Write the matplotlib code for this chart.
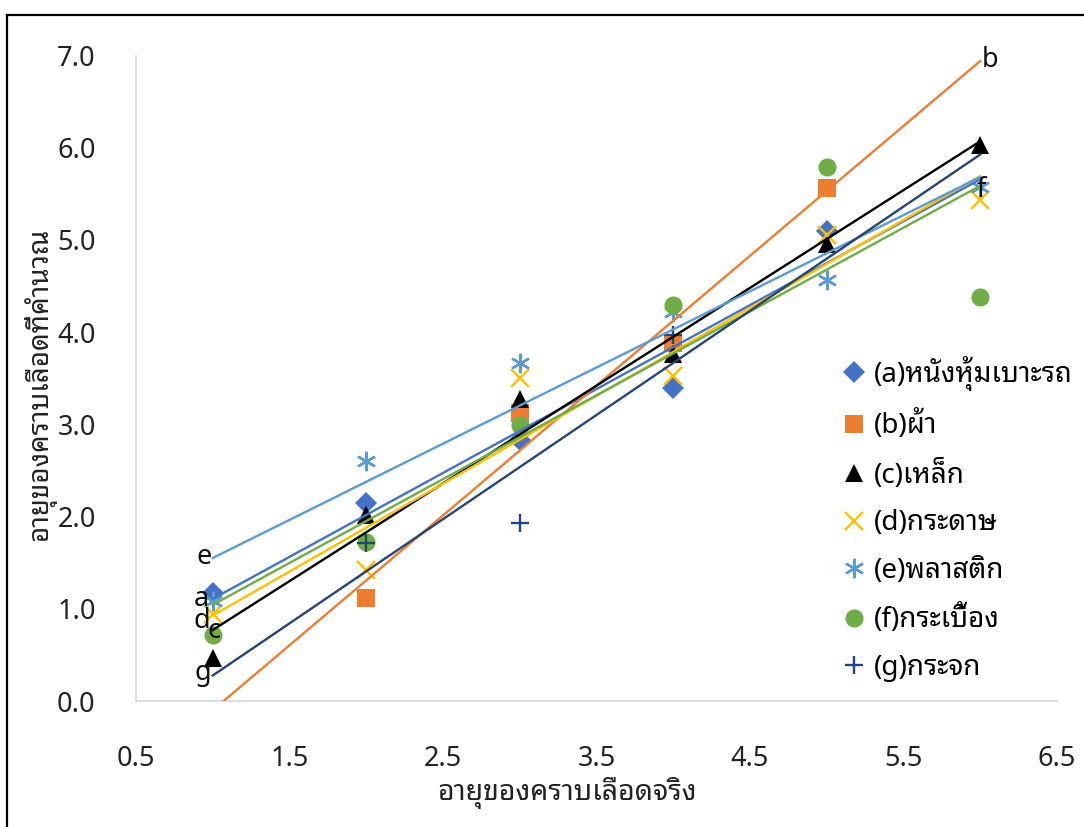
import numpy as np
import matplotlib
matplotlib.use('Agg')
import matplotlib.pyplot as plt
from matplotlib import font_manager
from matplotlib.ft2font import FT2Font
from matplotlib.lines import Line2D

# Blood stain age: actual (x) vs calculated (y), one series per surface
age_actual = [1, 2, 3, 4, 5, 6]
leather = [1.17, 2.15, 2.83, 3.39, 5.10, np.nan]
cloth = [np.nan, 1.12, 3.12, 3.88, 5.56, np.nan]
iron = [0.47, 2.02, 3.28, 3.76, 4.96, 6.03]
paper = [0.94, 1.42, 3.50, 3.52, 5.05, 5.43]
plastic = [1.08, 2.60, 3.66, 4.22, 4.57, 5.57]
tile = [0.72, 1.72, 2.99, 4.29, 5.79, 4.38]
glass = [np.nan, 1.71, 1.93, 3.97, np.nan, np.nan]

series_names = ['(a)หนังหุ้มเบาะรถ', '(b)ผ้า', '(c)เหล็ก', '(d)กระดาษ',
                '(e)พลาสติก', '(f)กระเบื้อง', '(g)กระจก']
line_tags = ['a', 'b', 'c', 'd', 'e', 'f', 'g']
x_title = 'อายุของคราบเลือดจริง'
y_title = 'อายุของคราบเลือดที่คำนวณ'
x_ticks = [0.5, 1.5, 2.5, 3.5, 4.5, 5.5, 6.5]
y_ticks = [0.0, 1.0, 2.0, 3.0, 4.0, 5.0, 6.0, 7.0]


def pick_thai_font():
    found = []
    for entry in font_manager.fontManager.ttflist:
        try:
            cmap = FT2Font(entry.fname).get_charmap()
        except Exception:
            continue
        if 0x0E01 in cmap:
            found.append(entry.name)
    for pref in ['Noto Sans Thai Looped', 'Noto Sans Thai', 'Noto Sans Thai UI',
                 'Loma', 'Garuda', 'Tlwg Typo', 'Sarabun']:
        if pref in found:
            return pref
    return found[0] if found else 'DejaVu Sans'


thai = pick_thai_font()
plt.rcParams['font.family'] = [thai, 'Noto Sans', 'DejaVu Sans']

colors = ['#4472C4', '#ED7D31', '#000000', '#FFC000', '#5B9BD5', '#70AD47', '#264478']
markers = ['D', 's', '^', 'x', (6, 2, 0), 'o', '+']
msizes = [11, 12.5, 13, 12.5, 14, 13, 13]

# label placement next to each trendline end (points offset, anchor)
tag_style = {
    'a': (1, (-3, 0), 'right'),
    'b': (6, (1, 1), 'left'),
    'c': (1, (1, -1), 'center'),
    'd': (1, (-2, -4), 'right'),
    'e': (1, (-1, 1), 'right'),
    'f': (6, (1, -3), 'center'),
    'g': (1, (-1, 2), 'right'),
}

fig = plt.figure(figsize=(10.84, 8.27), dpi=100)
ax = fig.add_axes([136 / 1084, 1 - 701 / 827, (1057 - 136) / 1084, (701 - 55.5) / 827])

x = np.array(age_actual, dtype=float)
all_series = [leather, cloth, iron, paper, plastic, tile, glass]
for ys, name, tag, col, mk, ms in zip(all_series, series_names, line_tags,
                                      colors, markers, msizes):
    ys = np.array(ys, dtype=float)
    ok = ~np.isnan(ys)
    if mk in ('x', '+') or isinstance(mk, tuple):
        ax.plot(x[ok], ys[ok], linestyle='none', marker=mk, markersize=ms,
                color=col, markeredgewidth=1.7, label=name, zorder=2)
    else:
        ax.plot(x[ok], ys[ok], linestyle='none', marker=mk, markersize=ms,
                color=col, markeredgewidth=0, label=name, zorder=2)
    # linear trendline over the full 1..6 range
    k, b0 = np.polyfit(x[ok], ys[ok], 1)
    xl = np.array([1.0, 6.0])
    ax.plot(xl, k * xl + b0, color=col, linewidth=1.7, zorder=3)
    at, off, ha = tag_style[tag]
    ax.annotate(tag, (at, k * at + b0), xytext=off, textcoords='offset points',
                ha=ha, va='center', fontsize=19.5, color='#111111', zorder=4)

ax.set_xlim(0.5, 6.5)
ax.set_ylim(0, 7)
ax.set_xticks(x_ticks)
ax.set_xticklabels([f'{t:.1f}' for t in x_ticks])
ax.set_yticks(y_ticks)
ax.set_yticklabels([f'{t:.1f}' for t in y_ticks])
ax.tick_params(length=0, labelsize=19.5, colors='#222222')
ax.tick_params(axis='x', pad=32)
ax.tick_params(axis='y', pad=29)
for side in ['top', 'right']:
    ax.spines[side].set_visible(False)
for side in ['left', 'bottom']:
    ax.spines[side].set_color('#D9D9D9')
    ax.spines[side].set_linewidth(1.2)

ax.set_xlabel(x_title, fontsize=20.5, color='#222222')
ax.xaxis.set_label_coords((567 - 136) / 921, -(793 - 701) / 645.5, transform=ax.transAxes)
ax.xaxis.label.set_va('center')
ax.set_ylabel(y_title, fontsize=20, color='#222222')
ax.yaxis.set_label_coords(-(136 - 47) / 921, (701 - 384) / 645.5, transform=ax.transAxes)
ax.yaxis.label.set_va('baseline')

ax.legend(loc='upper left', bbox_to_anchor=(838 / 1084, 1 - 356 / 827),
          bbox_transform=fig.transFigure, frameon=False, fontsize=20,
          handlelength=1.15, handletextpad=0.15, labelspacing=0.70,
          borderpad=0, borderaxespad=0, numpoints=1)

# outer frame (left and top edges of the chart box)
fig.add_artist(Line2D([7 / 1084, 7 / 1084], [0, 1 - 15 / 827],
                      transform=fig.transFigure, color='black', linewidth=1.6))
fig.add_artist(Line2D([7 / 1084, 1], [1 - 15 / 827, 1 - 15 / 827],
                      transform=fig.transFigure, color='black', linewidth=1.6))

fig.savefig('out.png', dpi=100)
